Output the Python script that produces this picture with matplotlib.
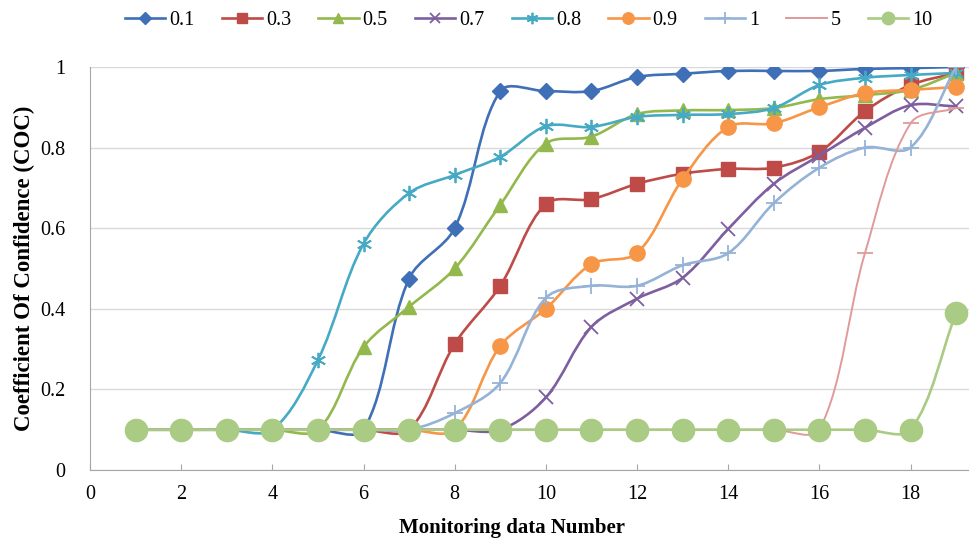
import matplotlib
matplotlib.use('Agg')
import matplotlib.pyplot as plt
from matplotlib.path import Path
from matplotlib.patches import PathPatch
from matplotlib.lines import Line2D

plt.rcParams['font.family'] = ['Liberation Serif', 'DejaVu Serif']

# data
x = list(range(1, 20))
series_names = ['0.1', '0.3', '0.5', '0.7', '0.8', '0.9', '1', '5', '10']
s01 = [0.1, 0.1, 0.1, 0.1, 0.1, 0.1, 0.475, 0.60, 0.94, 0.94, 0.94, 0.975, 0.983, 0.99, 0.99, 0.99, 0.995, 0.997, 1.0]
s03 = [0.1] * 7 + [0.313, 0.457, 0.66, 0.672, 0.71, 0.735, 0.747, 0.75, 0.789, 0.89, 0.955, 0.985]
s05 = [0.1] * 5 + [0.305, 0.405, 0.50, 0.658, 0.81, 0.827, 0.883, 0.892, 0.893, 0.898, 0.92, 0.93, 0.943, 0.985]
s07 = [0.1] * 9 + [0.18, 0.355, 0.425, 0.477, 0.598, 0.71, 0.78, 0.849, 0.905, 0.902]
s08 = [0.1] * 4 + [0.273, 0.561, 0.687, 0.732, 0.777, 0.853, 0.851, 0.876, 0.881, 0.883, 0.898, 0.955, 0.973, 0.98, 0.985]
s09 = [0.1] * 8 + [0.308, 0.40, 0.511, 0.538, 0.722, 0.851, 0.86, 0.90, 0.935, 0.943, 0.95]
s1 = [0.1] * 7 + [0.141, 0.216, 0.427, 0.457, 0.457, 0.508, 0.538, 0.662, 0.75, 0.80, 0.80, 1.0]
s5 = [0.1] * 16 + [0.538, 0.86, 0.898]
s10 = [0.1] * 18 + [0.39]
all_series = [s01, s03, s05, s07, s08, s09, s1, s5, s10]

colors = ['#3F6FB6', '#BE4B48', '#93B94D', '#7D5FA0', '#46AAC5', '#F79646', '#95B3D7', '#E09A9A', '#A9CB84']
markers = ['D', 's', '^', 'x', (6, 2, 0), 'o', '+', '_', 'o']
msizes = [8, 10, 10, 10, 11, 11, 11, 11, 16]
lwidths = [1.9, 1.9, 1.9, 1.9, 1.9, 1.9, 1.9, 1.4, 1.9]

# rough pixel size of one data unit, used to weight the smoothing like Excel does
XPX, YPX = 45.6, 403.0


def smooth_path(xs, ys):
    # smoothed line: cubic Bezier with tangents weighted by chord length
    pts = list(zip(xs, ys))
    n = len(pts)

    def dist(a, b):
        return (((b[0] - a[0]) * XPX) ** 2 + ((b[1] - a[1]) * YPX) ** 2) ** 0.5

    verts = [pts[0]]
    codes = [Path.MOVETO]
    for i in range(n - 1):
        p0 = pts[i - 1] if i > 0 else pts[i]
        p1 = pts[i]
        p2 = pts[i + 1]
        p3 = pts[i + 2] if i + 2 < n else pts[i + 1]
        d01, d12, d23 = dist(p0, p1), dist(p1, p2), dist(p2, p3)
        f1 = d12 / (d01 + d12) / 3 if d01 + d12 > 0 else 0
        f2 = d12 / (d12 + d23) / 3 if d12 + d23 > 0 else 0
        c1 = (p1[0] + (p2[0] - p0[0]) * f1, p1[1] + (p2[1] - p0[1]) * f1)
        c2 = (p2[0] - (p3[0] - p1[0]) * f2, p2[1] - (p3[1] - p1[1]) * f2)
        verts += [c1, c2, p2]
        codes += [Path.CURVE4] * 3
    return Path(verts, codes)


fig = plt.figure(figsize=(9.7, 5.44), dpi=100)
ax = fig.add_axes([0.0928, 0.136, 0.907, 0.741])

handles = []
for i, (ys, c, m, ms, lw) in enumerate(zip(all_series, colors, markers, msizes, lwidths)):
    z = 3 + i * 0.1
    ax.add_patch(PathPatch(smooth_path(x, ys), facecolor='none', edgecolor=c,
                           lw=lw, zorder=z, transform=ax.transData))
    mew = 1.3 if m in ('x', '+', '_', (6, 2, 0)) else 1
    ax.plot(x, ys, linestyle='none', marker=m, markersize=ms, color=c,
            markeredgewidth=mew, zorder=z)
    handles.append(Line2D([], [], color=c, lw=lw, marker=m,
                          markersize=ms * 0.75 if ms < 15 else 9, markeredgewidth=mew))

ax.set_xlim(0, 19.3)
ax.set_ylim(0, 1)
ax.set_xticks(range(0, 19, 2))
ax.set_yticks([0, 0.2, 0.4, 0.6, 0.8, 1])
ax.set_yticklabels(['0', '0.2', '0.4', '0.6', '0.8', '1'])
ax.tick_params(axis='x', direction='in', length=4, color='#A6A6A6', labelsize=14.5, pad=11)
ax.tick_params(axis='y', length=0, labelsize=14.5, pad=18)
ax.grid(axis='y', color='#D9D9D9', lw=1)
ax.set_axisbelow(True)
for side in ['top', 'right']:
    ax.spines[side].set_visible(False)
for side in ['left', 'bottom']:
    ax.spines[side].set_color('#A6A6A6')

ax.set_xlabel('Monitoring data Number', fontsize=15, fontweight='bold')
ax.xaxis.set_label_coords(0.48, -0.12)
ax.set_ylabel('Coefficient Of Confidence (COC)', fontsize=16.5, fontweight='bold')
ax.yaxis.set_label_coords(-0.062, 0.5)

fig.legend(handles, series_names, loc='center', bbox_to_anchor=(0.545, 0.962), ncol=9,
           frameon=False, fontsize=14.5, handlelength=2.0, handletextpad=0.2,
           columnspacing=1.35)

fig.savefig('out.png', dpi=100)
